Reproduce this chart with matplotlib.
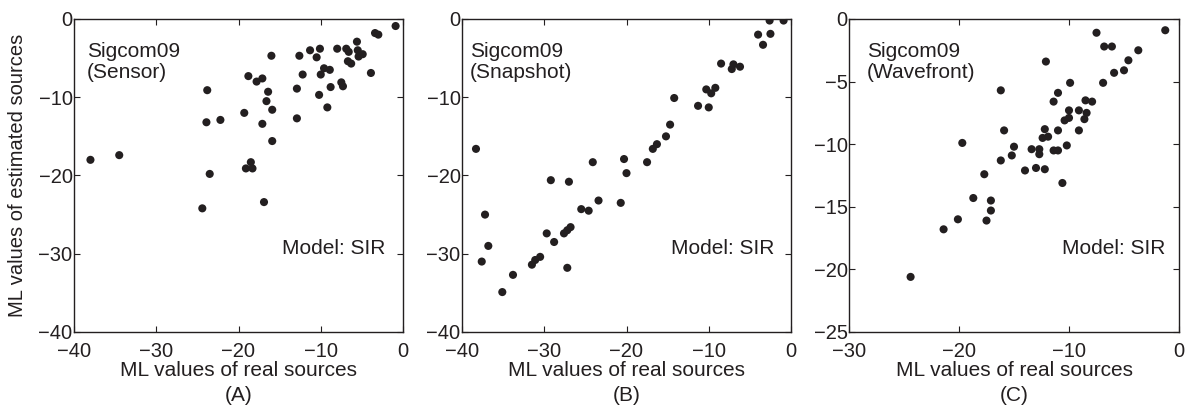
import matplotlib
matplotlib.use("Agg")
from matplotlib import pyplot as plt

# Panel A: Sensor
sensor_x = [-0.9, -3.4, -3.0, -5.6, -8.0, -6.9, -6.6, -10.1, -11.3, -12.6,
            -10.5, -16.0, -5.5, -4.9, -5.4, -6.7, -6.3, -3.9, -9.6, -8.9,
            -10.0, -12.2, -18.8, -17.1, -17.8, -7.5, -7.3, -8.8, -12.9, -23.8,
            -16.4, -10.2, -16.6, -15.9, -9.2, -19.3, -22.2, -12.9, -23.9, -17.1,
            -15.9, -34.5, -38.0, -18.5, -19.1, -18.3, -23.5, -16.9, -24.4]
sensor_y = [-0.9, -1.8, -2.0, -2.9, -3.8, -3.8, -4.2, -3.8, -4.0, -4.7,
            -4.9, -4.7, -4.0, -4.5, -4.8, -5.4, -5.7, -6.9, -6.3, -6.5,
            -7.1, -7.1, -7.3, -7.6, -8.0, -8.1, -8.6, -8.7, -8.9, -9.1,
            -9.3, -9.7, -10.5, -11.6, -11.3, -12.0, -12.9, -12.7, -13.2, -13.4,
            -15.6, -17.4, -18.0, -18.3, -19.1, -19.1, -19.8, -23.4, -24.2]

# Panel B: Snapshot
snap_x = [-0.9, -2.6, -4.0, -2.5, -3.4, -8.5, -7.0, -6.2, -7.2, -10.3,
          -9.2, -9.7, -14.2, -11.3, -10.0, -14.7, -15.2, -16.3, -16.8, -38.3,
          -20.3, -17.5, -24.1, -20.0, -29.2, -27.0, -23.4, -20.7, -25.5, -24.6,
          -37.2, -26.8, -27.2, -27.6, -29.7, -28.8, -36.8, -37.6, -30.5, -31.1,
          -31.5, -27.2, -33.8, -35.1]
snap_y = [-0.2, -0.2, -2.0, -1.9, -3.3, -5.7, -5.8, -6.1, -6.4, -9.0,
          -8.8, -9.5, -10.1, -11.1, -11.3, -13.5, -15.0, -16.0, -16.6, -16.6,
          -17.9, -18.3, -18.3, -19.7, -20.6, -20.8, -23.2, -23.5, -24.3, -24.5,
          -25.0, -26.6, -27.0, -27.4, -27.4, -28.5, -29.0, -31.0, -30.4, -30.8,
          -31.4, -31.8, -32.7, -34.9]

# Panel C: Wavefront
wave_x = [-1.25, -7.5, -6.8, -6.1, -3.7, -4.6, -12.1, -5.0, -5.9, -9.9,
          -6.9, -16.2, -11.0, -11.4, -8.5, -7.9, -10.0, -9.1, -8.4, -10.0,
          -10.4, -8.6, -15.9, -12.2, -11.0, -9.1, -11.9, -12.4, -19.7, -10.2,
          -15.0, -13.4, -12.7, -11.4, -11.0, -12.7, -15.2, -16.2, -14.0, -13.0,
          -12.2, -17.7, -10.6, -18.7, -17.1, -17.1, -17.5, -20.1, -21.4, -24.4]
wave_y = [-0.9, -1.1, -2.2, -2.2, -2.5, -3.3, -3.4, -4.1, -4.3, -5.1,
          -5.1, -5.7, -5.9, -6.6, -6.5, -6.6, -7.3, -7.3, -7.5, -7.9,
          -8.1, -8.0, -8.9, -8.8, -8.9, -8.9, -9.4, -9.5, -9.9, -10.1,
          -10.2, -10.4, -10.4, -10.5, -10.5, -10.8, -10.9, -11.3, -12.1, -11.9,
          -12.0, -12.4, -13.1, -14.3, -14.5, -15.3, -16.1, -16.0, -16.8, -20.6]

plt.rcParams['font.family'] = ['Liberation Sans', 'DejaVu Sans']
dot_color = '#231f20'
text_color = '#231f20'

fig = plt.figure(figsize=(11.9, 4.09), dpi=100)
bottom, height = 0.1883, 0.7653
ax_a = fig.add_axes([74 / 1190, bottom, 329 / 1190, height])
ax_b = fig.add_axes([462 / 1190, bottom, 329 / 1190, height])
ax_c = fig.add_axes([849 / 1190, bottom, 330 / 1190, height])

panels = [
    (ax_a, sensor_x, sensor_y, 'Sensor', '(A)', (-40, 0), (-40, 0), 10, 10, 0.04, 0.945),
    (ax_b, snap_x, snap_y, 'Snapshot', '(B)', (-40, 0), (-40, 0), 10, 10, 0.024, 0.948),
    (ax_c, wave_x, wave_y, 'Wavefront', '(C)', (-30, 0), (-25, 0), 10, 5, 0.055, 0.96),
]

for ax, xs, ys, name, tag, xlim, ylim, xstep, ystep, tx, mx in panels:
    ax.scatter(xs, ys, s=34, color=dot_color, edgecolors='none', zorder=3)
    ax.set_xlim(xlim)
    ax.set_ylim(ylim)
    ax.set_xticks(range(xlim[0], xlim[1] + 1, xstep))
    ax.set_yticks(range(ylim[0], ylim[1] + 1, ystep))
    ax.tick_params(direction='in', top=True, right=True, length=4,
                   labelsize=14.5, colors=text_color)
    ax.tick_params(axis='x', pad=7)
    ax.tick_params(axis='y', pad=1)
    for sp in ax.spines.values():
        sp.set_color(text_color)
        sp.set_linewidth(1.0)
    ax.set_xlabel('ML values of real sources\n' + tag, fontsize=15,
                  color=text_color, linespacing=1.4, labelpad=0)
    ax.text(tx, 0.926, 'Sigcom09\n(' + name + ')', transform=ax.transAxes,
            ha='left', va='top', fontsize=15, color=text_color, linespacing=1.1)
    ax.text(mx, 0.268, 'Model: SIR', transform=ax.transAxes,
            ha='right', va='center', fontsize=15, color=text_color)

ax_a.set_ylabel('ML values of estimated sources', fontsize=14.5,
                color=text_color, labelpad=8)

plt.savefig('out.png', dpi=100)
